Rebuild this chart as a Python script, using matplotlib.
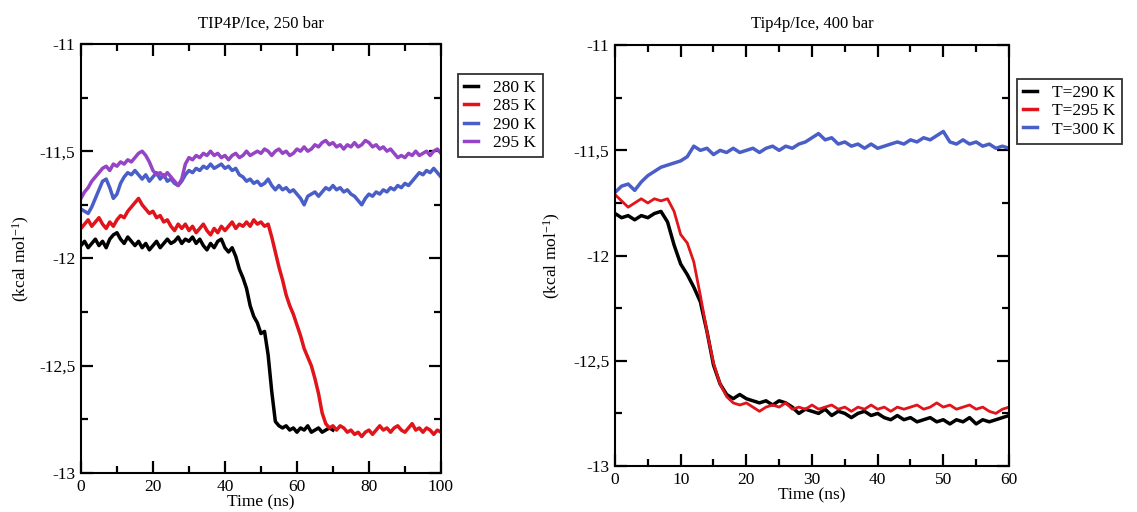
import numpy as np
import matplotlib
matplotlib.use("Agg")
import matplotlib.pyplot as plt
from matplotlib.ticker import MultipleLocator, FuncFormatter

# ---- data (kcal/mol vs time in ns) ----
# left panel: TIP4P/Ice, 250 bar (1 ns steps)
time_250 = list(range(0, 101))
e_280 = [-11.94, -11.92, -11.95, -11.93, -11.91, -11.94, -11.92, -11.95, -11.91, -11.89,
         -11.88, -11.91, -11.93, -11.90, -11.92, -11.94, -11.92, -11.95, -11.93, -11.96,
         -11.94, -11.92, -11.95, -11.93, -11.91, -11.93, -11.92, -11.90, -11.93, -11.91,
         -11.92, -11.90, -11.93, -11.91, -11.94, -11.96, -11.93, -11.95, -11.92, -11.91,
         -11.95, -11.97, -11.95, -11.99, -12.05, -12.09, -12.14, -12.22, -12.27, -12.30,
         -12.35, -12.34, -12.45, -12.62, -12.76, -12.78, -12.79, -12.78, -12.80, -12.79,
         -12.81, -12.79, -12.80, -12.78, -12.81, -12.80, -12.79, -12.81, -12.80, -12.79,
         -12.80]
e_285 = [-11.86, -11.84, -11.82, -11.85, -11.83, -11.81, -11.84, -11.86, -11.83, -11.85,
         -11.82, -11.80, -11.81, -11.78, -11.76, -11.74, -11.72, -11.75, -11.77, -11.79,
         -11.78, -11.81, -11.80, -11.83, -11.82, -11.85, -11.87, -11.84, -11.86, -11.84,
         -11.87, -11.85, -11.88, -11.86, -11.84, -11.87, -11.89, -11.86, -11.88, -11.85,
         -11.87, -11.85, -11.83, -11.86, -11.84, -11.85, -11.83, -11.85, -11.82, -11.84,
         -11.83, -11.85, -11.84, -11.90, -11.97, -12.04, -12.10, -12.17, -12.22, -12.26,
         -12.31, -12.36, -12.42, -12.46, -12.50, -12.56, -12.63, -12.72, -12.77, -12.79,
         -12.78, -12.80, -12.78, -12.79, -12.81, -12.80, -12.82, -12.81, -12.83, -12.81,
         -12.80, -12.82, -12.80, -12.78, -12.80, -12.79, -12.81, -12.79, -12.78, -12.80,
         -12.81, -12.79, -12.77, -12.80, -12.79, -12.81, -12.79, -12.80, -12.82, -12.80,
         -12.81]
e_290 = [-11.77, -11.78, -11.79, -11.76, -11.72, -11.68, -11.64, -11.63, -11.67, -11.72,
         -11.70, -11.65, -11.62, -11.60, -11.61, -11.59, -11.61, -11.63, -11.61, -11.64,
         -11.62, -11.60, -11.63, -11.61, -11.64, -11.63, -11.65, -11.66, -11.64, -11.61,
         -11.59, -11.60, -11.58, -11.59, -11.57, -11.58, -11.56, -11.58, -11.57, -11.56,
         -11.58, -11.57, -11.59, -11.58, -11.61, -11.62, -11.64, -11.63, -11.65, -11.64,
         -11.66, -11.65, -11.63, -11.66, -11.68, -11.66, -11.68, -11.67, -11.69, -11.68,
         -11.70, -11.72, -11.75, -11.71, -11.70, -11.69, -11.71, -11.69, -11.67, -11.68,
         -11.66, -11.68, -11.67, -11.69, -11.68, -11.70, -11.71, -11.73, -11.75, -11.72,
         -11.70, -11.71, -11.69, -11.70, -11.68, -11.69, -11.67, -11.68, -11.66, -11.67,
         -11.65, -11.66, -11.64, -11.62, -11.60, -11.61, -11.59, -11.60, -11.58, -11.60,
         -11.62]
e_295 = [-11.72, -11.69, -11.67, -11.64, -11.62, -11.60, -11.58, -11.57, -11.59, -11.56,
         -11.57, -11.55, -11.56, -11.54, -11.55, -11.53, -11.51, -11.50, -11.52, -11.55,
         -11.59, -11.61, -11.60, -11.62, -11.60, -11.62, -11.64, -11.66, -11.63, -11.56,
         -11.53, -11.54, -11.52, -11.53, -11.51, -11.52, -11.50, -11.52, -11.51, -11.53,
         -11.52, -11.54, -11.52, -11.51, -11.53, -11.52, -11.50, -11.52, -11.51, -11.50,
         -11.51, -11.49, -11.50, -11.52, -11.50, -11.49, -11.51, -11.50, -11.52, -11.51,
         -11.49, -11.50, -11.48, -11.50, -11.49, -11.47, -11.48, -11.46, -11.45, -11.47,
         -11.46, -11.48, -11.47, -11.49, -11.47, -11.48, -11.46, -11.48, -11.47, -11.45,
         -11.46, -11.48, -11.47, -11.49, -11.48, -11.50, -11.49, -11.51, -11.53, -11.52,
         -11.53, -11.51, -11.52, -11.50, -11.52, -11.51, -11.50, -11.52, -11.50, -11.49,
         -11.51]

# right panel: Tip4p/Ice, 400 bar (1 ns steps)
time_400 = list(range(0, 61))
t_290 = [-11.80, -11.82, -11.81, -11.83, -11.81, -11.82, -11.80, -11.79, -11.84, -11.95,
         -12.04, -12.09, -12.15, -12.22, -12.36, -12.52, -12.61, -12.66, -12.68, -12.66,
         -12.68, -12.69, -12.70, -12.69, -12.71, -12.69, -12.70, -12.72, -12.75, -12.73,
         -12.74, -12.75, -12.73, -12.76, -12.74, -12.75, -12.77, -12.75, -12.74, -12.76,
         -12.75, -12.77, -12.78, -12.76, -12.78, -12.77, -12.79, -12.78, -12.77, -12.79,
         -12.78, -12.80, -12.78, -12.79, -12.77, -12.80, -12.78, -12.79, -12.78, -12.77,
         -12.76]
t_295 = [-11.71, -11.74, -11.77, -11.75, -11.73, -11.75, -11.73, -11.74, -11.73, -11.79,
         -11.90, -11.94, -12.03, -12.19, -12.36, -12.51, -12.61, -12.67, -12.70, -12.71,
         -12.70, -12.72, -12.74, -12.72, -12.71, -12.72, -12.70, -12.73, -12.72, -12.73,
         -12.71, -12.73, -12.72, -12.71, -12.73, -12.72, -12.74, -12.72, -12.73, -12.71,
         -12.73, -12.72, -12.74, -12.72, -12.73, -12.72, -12.71, -12.73, -12.72, -12.70,
         -12.72, -12.71, -12.73, -12.72, -12.71, -12.73, -12.72, -12.74, -12.75, -12.73,
         -12.72]
t_300 = [-11.70, -11.67, -11.66, -11.69, -11.65, -11.62, -11.60, -11.58, -11.57, -11.56,
         -11.55, -11.53, -11.48, -11.50, -11.49, -11.52, -11.50, -11.51, -11.49, -11.51,
         -11.50, -11.49, -11.51, -11.49, -11.48, -11.50, -11.48, -11.49, -11.47, -11.46,
         -11.44, -11.42, -11.45, -11.44, -11.47, -11.46, -11.48, -11.47, -11.49, -11.47,
         -11.49, -11.48, -11.47, -11.46, -11.47, -11.45, -11.46, -11.44, -11.45, -11.43,
         -11.41, -11.46, -11.47, -11.45, -11.47, -11.46, -11.48, -11.47, -11.49, -11.48,
         -11.49]

labels_250 = ["280 K", "285 K", "290 K", "295 K"]
labels_400 = ["T=290 K", "T=295 K", "T=300 K"]

BLACK = "#000000"
RED = "#e0141a"
BLUE = "#4a5ec8"
PURPLE = "#9444c4"

plt.rcParams['font.family'] = ['Liberation Serif', 'DejaVu Serif']
plt.rcParams['mathtext.default'] = 'regular'


def comma_fmt(v, pos):
    # grace-style decimal comma
    return f"{v:g}".replace(".", ",")


def style_axes(ax, xmax, xmajor, xminor):
    ax.set_xlim(0, xmax)
    ax.set_ylim(-13, -11)
    ax.xaxis.set_major_locator(MultipleLocator(xmajor))
    ax.xaxis.set_minor_locator(MultipleLocator(xminor))
    ax.yaxis.set_major_locator(MultipleLocator(0.5))
    ax.yaxis.set_minor_locator(MultipleLocator(0.25))
    ax.yaxis.set_major_formatter(FuncFormatter(comma_fmt))
    ax.tick_params(which='both', direction='in', top=True, right=True, width=1.6)
    ax.tick_params(which='major', length=8.5, labelsize=12.5, pad=4)
    ax.tick_params(which='minor', length=5)
    for sp in ax.spines.values():
        sp.set_linewidth(1.5)
    ax.set_xlabel("Time (ns)", fontsize=12.5, labelpad=0)
    ax.set_ylabel("(kcal mol$^{-1}$)", fontsize=12.5)


def add_legend(ax, anchor):
    leg = ax.legend(loc='upper left', bbox_to_anchor=anchor, fontsize=12.5,
                    frameon=True, fancybox=False, edgecolor='black', handlelength=0.8,
                    handletextpad=0.9, borderpad=0.35, labelspacing=0.12, borderaxespad=0)
    leg.get_frame().set_linewidth(1.3)
    for h in leg.get_lines():
        h.set_linewidth(2.5)
    return leg


fig = plt.figure(figsize=(11.37, 5.12), dpi=100)

# left panel
ax1 = fig.add_axes([0.0712, 0.0762, 0.3166, 0.838])
ax1.plot(time_250[:len(e_280)], e_280, color=BLACK, lw=2.5, label=labels_250[0])
ax1.plot(time_250, e_285, color=RED, lw=2.5, label=labels_250[1])
ax1.plot(time_250, e_290, color=BLUE, lw=2.5, label=labels_250[2])
ax1.plot(time_250, e_295, color=PURPLE, lw=2.5, label=labels_250[3])
style_axes(ax1, 100, 20, 10)
ax1.yaxis.set_label_coords(-0.136, 0.5)
ax1.set_title("TIP4P/Ice, 250 bar", fontsize=12, pad=12)
add_legend(ax1, (1.047, 0.93))

# right panel
ax2 = fig.add_axes([0.5409, 0.0898, 0.3465, 0.822])
ax2.plot(time_400, t_290, color=BLACK, lw=2.5, label=labels_400[0])
ax2.plot(time_400, t_295, color=RED, lw=2.0, label=labels_400[1])
ax2.plot(time_400, t_300, color=BLUE, lw=2.5, label=labels_400[2])
style_axes(ax2, 60, 10, 5)
ax2.yaxis.set_label_coords(-0.132, 0.5)
ax2.set_title("Tip4p/Ice, 400 bar", fontsize=12, pad=12)
add_legend(ax2, (1.02, 0.92))

fig.savefig("out.png", dpi=100)
